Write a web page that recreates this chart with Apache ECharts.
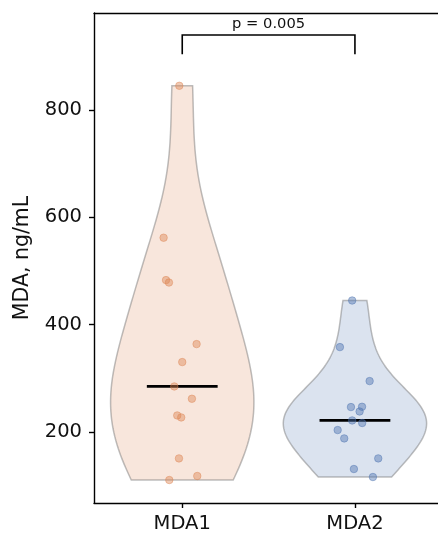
<!DOCTYPE html>
<html><head><meta charset="utf-8">
<script src="https://cdn.jsdelivr.net/npm/echarts@6/dist/echarts.min.js"></script>
<style>html,body{margin:0;padding:0;background:#fff}#c{width:438px;height:534px}</style>
</head><body><div id="c"></div>
<script>
// ---- data ----
const categories = ['MDA1', 'MDA2'];
const mda1Values = [845, 562, 483, 478.5, 363.8, 330.3, 284.9, 262, 230.9, 227.2, 150.9, 118.1, 110.6];
const mda1Jitter = [-0.017, -0.108, -0.094, -0.077, 0.083, 0.0, -0.046, 0.056, -0.029, -0.006, -0.019, 0.087, -0.075];
const mda2Values = [445, 358.2, 294.9, 246.5, 247.1, 238.3, 221.6, 216.8, 203.7, 188.1, 150.9, 131.1, 116.2];
const mda2Jitter = [-0.016, -0.087, 0.085, -0.023, 0.041, 0.027, -0.016, 0.042, -0.100, -0.062, 0.135, -0.006, 0.104];
const yTicks = [200, 400, 600, 800];
const pValueLabel = 'p = 0.005';
const bracketLevels = [939.6, 903.6]; // [top, leg end]

// ---- derived statistics ----
const groups = [mda1Values, mda2Values];
function median(a) { const s = a.slice().sort((x, y) => x - y); const n = s.length; return n % 2 ? s[(n - 1) / 2] : (s[n / 2 - 1] + s[n / 2]) / 2; }
function kdeProfile(vals, n) {
  const N = vals.length;
  const mean = vals.reduce((s, v) => s + v, 0) / N;
  const sd = Math.sqrt(vals.reduce((s, v) => s + (v - mean) * (v - mean), 0) / (N - 1));
  const bw = sd * Math.pow(N, -0.2);
  const lo = Math.min(...vals), hi = Math.max(...vals);
  const out = [];
  let mx = 0;
  for (let i = 0; i < n; i++) {
    const x = lo + (hi - lo) * i / (n - 1);
    let d = 0;
    for (const v of vals) { const z = (x - v) / bw; d += Math.exp(-0.5 * z * z); }
    out.push([x, d]); if (d > mx) mx = d;
  }
  return out.map(p => [p[0], p[1] / mx]);
}
const profiles = groups.map(g => kdeProfile(g, 100));
const medians = groups.map(median);

const HALF = 0.415, MED_HALF = 0.205;
const fills = ['rgba(221,132,82,0.2)', 'rgba(76,114,176,0.2)'];
const dots = ['rgba(221,132,82,0.55)', 'rgba(76,114,176,0.55)'];
const FONT = 'DejaVu Sans';

const chart = echarts.init(document.getElementById('c'), null, { renderer: 'canvas' });
chart.setOption({
  animation: false,
  backgroundColor: '#fff',
  grid: { left: 94, right: 0, top: 13, bottom: 30.7 },
  xAxis: [{
    type: 'value', min: -0.511, max: 1.481, position: 'bottom',
    splitLine: { show: false },
    axisLine: { show: true, onZero: false, lineStyle: { color: '#000', width: 1.4 } },
    axisTick: { show: true, length: 5, lineStyle: { color: '#000', width: 1.4 }, customValues: [0, 1] },
    axisLabel: { customValues: [0, 1], formatter: v => categories[Math.round(v)], color: '#111', fontSize: 19.5, fontFamily: FONT, margin: 11 }
  }, {
    type: 'value', min: -0.511, max: 1.481, position: 'top',
    splitLine: { show: false }, axisTick: { show: false }, axisLabel: { show: false },
    axisLine: { show: true, onZero: false, lineStyle: { color: '#000', width: 1.4 } }
  }],
  yAxis: {
    type: 'value', min: 67.8, max: 980.6, position: 'left',
    splitLine: { show: false },
    axisLine: { show: true, onZero: false, lineStyle: { color: '#000', width: 1.4 } },
    axisTick: { show: true, length: 5, lineStyle: { color: '#000', width: 1.4 }, customValues: yTicks },
    axisLabel: { customValues: yTicks, color: '#111', fontSize: 19.5, fontFamily: FONT, margin: 12 },
    name: 'MDA, ng/mL', nameLocation: 'middle', nameGap: 61, nameRotate: 90,
    nameTextStyle: { color: '#111', fontSize: 20.5, fontFamily: FONT }
  },
  series: [
    {
      type: 'custom', z: 1, data: [[0], [1]],
      renderItem: (params, api) => {
        const i = api.value(0);
        const prof = profiles[i];
        const pts = [];
        prof.forEach(p => pts.push(api.coord([i + p[1] * HALF, p[0]])));
        for (let k = prof.length - 1; k >= 0; k--) pts.push(api.coord([i - prof[k][1] * HALF, prof[k][0]]));
        return { type: 'polygon', shape: { points: pts }, style: { fill: fills[i], stroke: 'rgba(110,110,110,0.45)', lineWidth: 1.5 } };
      }
    },
    {
      type: 'custom', z: 2, data: medians.map((m, i) => [i, m]),
      renderItem: (params, api) => {
        const i = api.value(0), m = api.value(1);
        const a = api.coord([i - MED_HALF, m]), b = api.coord([i + MED_HALF, m]);
        return { type: 'line', shape: { x1: a[0], y1: a[1], x2: b[0], y2: b[1] }, style: { stroke: '#000', lineWidth: 2.8 } };
      }
    },
    {
      type: 'scatter', z: 3, symbolSize: 7.5,
      data: mda1Values.map((v, k) => [0 + mda1Jitter[k], v]),
      itemStyle: { color: dots[0], borderColor: dots[0], borderWidth: 1 }
    },
    {
      type: 'scatter', z: 3, symbolSize: 7.5,
      data: mda2Values.map((v, k) => [1 + mda2Jitter[k], v]),
      itemStyle: { color: dots[1], borderColor: dots[1], borderWidth: 1 }
    },
    {
      type: 'custom', z: 4, data: [[0, 1, bracketLevels[0], bracketLevels[1]]],
      renderItem: (params, api) => {
        const x0 = api.value(0), x1 = api.value(1), top = api.value(2), bot = api.value(3);
        const p1 = api.coord([x0, bot]), p2 = api.coord([x0, top]), p3 = api.coord([x1, top]), p4 = api.coord([x1, bot]);
        return {
          type: 'group', children: [
            { type: 'polyline', shape: { points: [p1, p2, p3, p4] }, style: { stroke: '#000', lineWidth: 1.6, fill: null } },
            { type: 'text', x: (p2[0] + p3[0]) / 2, y: p2[1] - 3, style: { text: pValueLabel, fill: '#111', fontSize: 14.7, fontFamily: FONT, align: 'center', verticalAlign: 'bottom' } }
          ]
        };
      }
    }
  ]
});
</script></body></html>
